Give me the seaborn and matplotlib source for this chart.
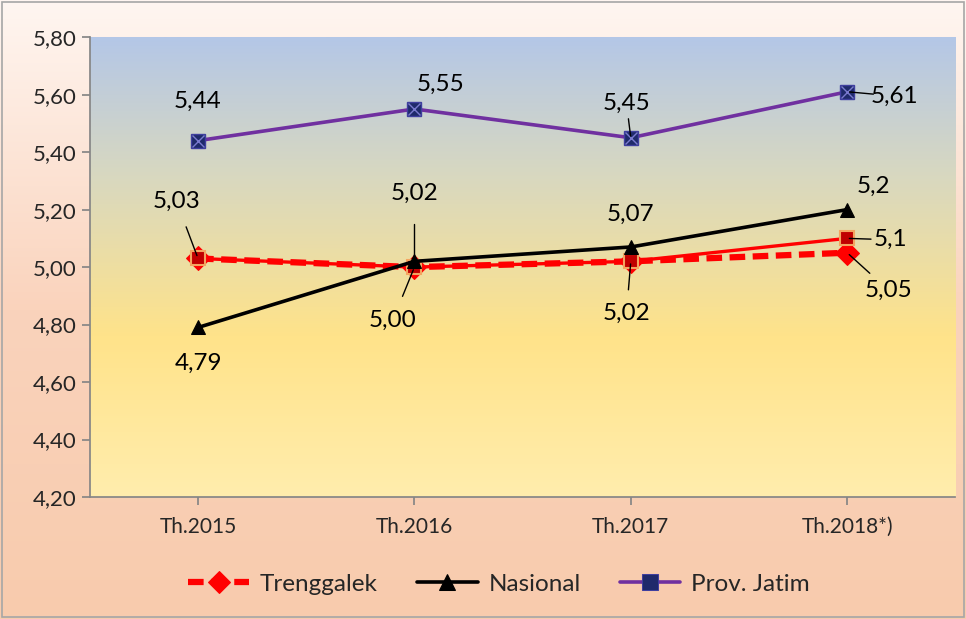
import numpy as np
import matplotlib
matplotlib.use("Agg")
import matplotlib.pyplot as plt
import seaborn as sns
from matplotlib.colors import LinearSegmentedColormap

# data
years = ["Th.2015", "Th.2016", "Th.2017", "Th.2018*)"]
trenggalek = [5.03, 5.00, 5.02, 5.05]
trenggalek_2 = [5.03, 5.00, 5.02, 5.10]   # solid red line with squares (not in legend)
nasional = [4.79, 5.02, 5.07, 5.20]
jatim = [5.44, 5.55, 5.45, 5.61]
yticks = [4.20, 4.40, 4.60, 4.80, 5.00, 5.20, 5.40, 5.60, 5.80]

sns.set_theme(style="white")
plt.rcParams['font.family'] = ['Lato', 'DejaVu Sans']

fig = plt.figure(figsize=(9.66, 6.19), dpi=100)

# figure background gradient
bg = fig.add_axes([0, 0, 1, 1], zorder=-10)
bg_cmap = LinearSegmentedColormap.from_list("bg", ["#F8CBAD", "#FAD3BC", "#FFF6F1"])
bg.imshow(np.linspace(0, 1, 256).reshape(-1, 1), aspect="auto", cmap=bg_cmap,
          origin="lower", extent=[0, 1, 0, 1])
bg.add_patch(plt.Rectangle((0.002, 0.003), 0.996, 0.994, fill=False,
                           edgecolor="#A6A6A6", lw=1.2, transform=bg.transAxes))
bg.set_axis_off()

ax = fig.add_axes([0.093, 0.197, 0.896, 0.743])
ax.patch.set_alpha(0)
grad = LinearSegmentedColormap.from_list(
    "plot", [(0, "#FFEDAD"), (0.35, "#FFE38A"), (0.7, "#D8D8C0"), (1, "#B4C7E7")])
ax.imshow(np.linspace(0, 1, 256).reshape(-1, 1), aspect="auto", cmap=grad,
          origin="lower", extent=[-0.5, 3.5, 4.2, 5.8], zorder=0)

x = np.arange(len(years))
sns.lineplot(x=x, y=trenggalek, ax=ax, color="#FF0000", lw=4.5, ls=(0, (2.5, 1.2)),
             marker="D", ms=12, mfc="#FF0000", mec="#FF0000", label="Trenggalek", zorder=3)
ax.plot(x, trenggalek_2, color="#FF0000", lw=2.4, marker="s", ms=10,
        mfc="#C00000", mec="#F4A460", mew=1.5, zorder=4)
sns.lineplot(x=x, y=nasional, ax=ax, color="black", lw=2.6, marker="^", ms=10,
             mfc="black", mec="black", label="Nasional", zorder=5)
sns.lineplot(x=x, y=jatim, ax=ax, color="#7030A0", lw=2.6, marker="X", ms=0,
             label="Prov. Jatim", zorder=5)
ax.plot(x, jatim, ls="none", marker="s", ms=10, mfc="#1F2A6B", mec="#3F3F9F", zorder=6)
ax.plot(x, jatim, ls="none", marker="x", ms=8, mec="#7A7ACF", mew=1, zorder=7)

ax.set_xlim(-0.5, 3.5)
ax.set_ylim(4.2, 5.8)
ax.set_xticks(x)
ax.set_xticklabels(years, fontsize=15)
ax.set_yticks(yticks)
ax.set_yticklabels([f"{v:.2f}".replace(".", ",") for v in yticks], fontsize=16)
ax.tick_params(axis="both", length=6, color="#868686", direction="out", left=True, bottom=True)
ax.tick_params(axis="x", pad=8)
for s in ["top", "right"]:
    ax.spines[s].set_visible(False)
for s in ["left", "bottom"]:
    ax.spines[s].set_color("#868686")
ax.set_xlabel("")
ax.set_ylabel("")

# value labels: (text, x, y, text_x, text_y, leader)
labels = [
    ("5,44", 0, jatim[0], 0.0, 5.575, False),
    ("5,55", 1, jatim[1], 1.12, 5.635, False),
    ("5,45", 2, jatim[2], 1.98, 5.57, True),
    ("5,61", 3, jatim[3], 3.22, 5.595, True),
    ("5,03", 0, trenggalek[0], -0.1, 5.23, True),
    ("5,02", 1, nasional[1], 1.0, 5.255, True),
    ("5,07", 2, nasional[2], 2.0, 5.185, False),
    ("5,2", 3, nasional[3], 3.12, 5.28, False),
    ("5,1", 3, trenggalek_2[3], 3.2, 5.095, True),
    ("5,05", 3, trenggalek[3], 3.19, 4.92, True),
    ("4,79", 0, nasional[0], 0.0, 4.665, False),
    ("5,00", 1, trenggalek[1], 0.9, 4.815, True),
    ("5,02", 2, trenggalek[2], 1.98, 4.84, True),
]
for t, px, py, tx, ty, lead in labels:
    ax.text(tx, ty, t, fontsize=17.5, ha="center", va="center", color="black", zorder=10)
    if lead:
        # short leader line from label towards the point
        dx, dy = px - tx, py - ty
        sx, sy = tx + dx * 0.45, ty + dy * 0.45
        ax.plot([sx, px - dx * 0.05], [sy, py - dy * 0.05], color="black", lw=1, zorder=8)

leg = ax.legend(loc="center", bbox_to_anchor=(0.473, -0.19), ncol=3, frameon=False,
                fontsize=17.5, handlelength=2.5, handletextpad=0.45, columnspacing=1.6)
for h in leg.legend_handles:
    h.set_markersize(11)
leg.legend_handles[2].set_marker("s")
leg.legend_handles[2].set_markerfacecolor("#1F2A6B")
leg.legend_handles[2].set_markeredgecolor("#3F3F9F")

fig.savefig("out.png", dpi=100)
